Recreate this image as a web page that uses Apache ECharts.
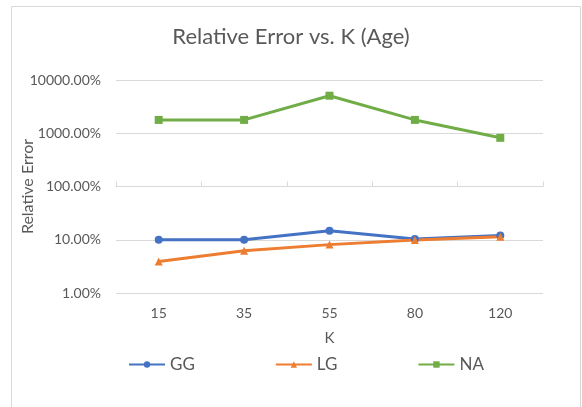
<!DOCTYPE html>
<html><head><meta charset="utf-8">
<script src="https://cdn.jsdelivr.net/npm/echarts@6/dist/echarts.min.js"></script>
<style>html,body{margin:0;padding:0;background:#fff}#c{width:582px;height:407px}</style>
</head><body><div id="c"></div>
<script>
const categories = ['15', '35', '55', '80', '120'];
const ggValues = [10, 10, 14.7, 10.3, 12];
const lgValues = [3.9, 6.2, 8.1, 9.9, 11.4];
const naValues = [1780, 1780, 5070, 1780, 820];
const yTicks = [1, 10, 100, 1000, 10000];

const chart = echarts.init(document.getElementById('c'), null, {renderer: 'canvas'});
const font = 'Lato, "Open Sans", sans-serif';
const gridTop = 80, gridBottom = 114, gridH = 407 - gridTop - gridBottom;
function mk(name, data, color, symbol, size) {
  return {name, type: 'line', data, symbol, symbolSize: size,
    itemStyle: {color}, lineStyle: {color, width: 3}, z: 3};
}
chart.setOption({
  animation: false,
  backgroundColor: '#fff',
  textStyle: {fontFamily: font},
  graphic: [{type: 'rect', shape: {x: 11.5, y: 6.5, width: 569, height: 410},
    style: {fill: 'none', stroke: '#d9d9d9', lineWidth: 1}, silent: true}],
  title: {text: 'Relative Error vs. K (Age)', left: 'center', top: 21,
    textStyle: {fontFamily: font, fontSize: 22, fontWeight: 'normal', color: '#595959'}},
  legend: {bottom: 29, left: 123, itemWidth: 36, itemHeight: 8, itemGap: 80,
    textStyle: {fontFamily: font, fontSize: 17, color: '#595959'},
    data: ['GG', 'LG', 'NA']},
  grid: {left: 116, right: 39, top: gridTop, bottom: gridBottom, outerBoundsMode: 'none', containLabel: false},
  xAxis: [{type: 'category', data: categories, boundaryGap: true,
    name: 'K', nameLocation: 'middle', nameGap: 38, nameMoveOverlap: false,
    nameTextStyle: {fontFamily: font, fontSize: 15, color: '#595959'},
    axisLine: {show: false}, axisTick: {show: false},
    axisLabel: {margin: 13, fontFamily: font, fontSize: 14, color: '#595959'}},
   {type: 'category', data: categories, boundaryGap: true, position: 'bottom',
    offset: -gridH / 2,
    axisLine: {show: true, lineStyle: {color: '#d9d9d9', width: 1}},
    axisTick: {show: true, inside: true, length: 5, lineStyle: {color: '#d9d9d9'}},
    axisLabel: {show: false}}],
  yAxis: {type: 'log', logBase: 10, min: yTicks[0], max: yTicks[yTicks.length - 1],
    name: 'Relative Error', nameLocation: 'middle', nameGap: 80, nameRotate: 90, nameMoveOverlap: false,
    nameTextStyle: {fontFamily: font, fontSize: 16, color: '#595959'},
    axisLine: {show: false}, axisTick: {show: false},
    splitLine: {lineStyle: {color: '#d9d9d9', width: 1}},
    axisLabel: {margin: 15, fontFamily: font, fontSize: 14, color: '#595959',
      formatter: v => v.toFixed(2) + '%'}},
  series: [
    mk('GG', ggValues, '#4472C4', 'circle', 8),
    mk('LG', lgValues, '#ED7D31', 'triangle', 8),
    mk('NA', naValues, '#70AD47', 'rect', 8)
  ]
});
</script></body></html>
